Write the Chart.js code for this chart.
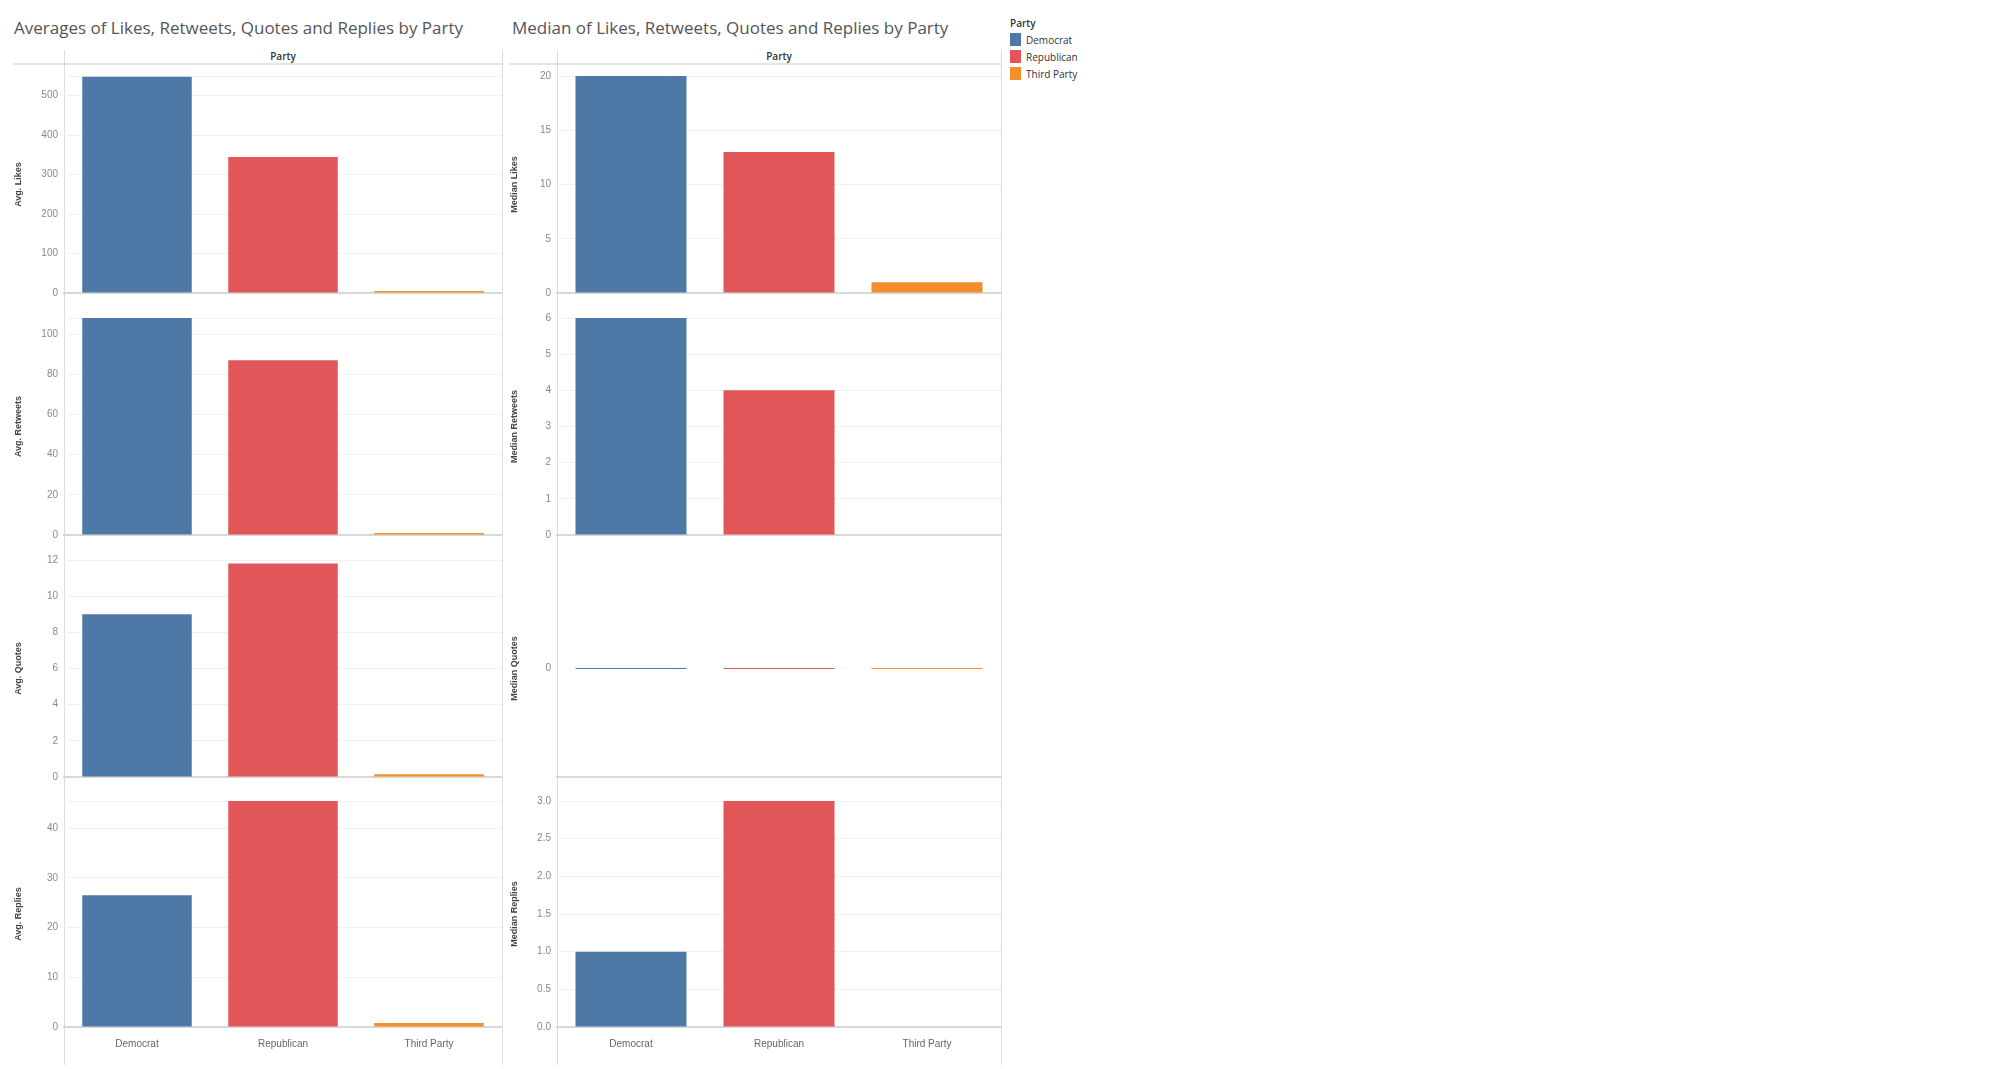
<!DOCTYPE html>
<html>
<head>
<meta charset="utf-8">
<script src="https://cdn.jsdelivr.net/npm/chart.js@4"></script>
<style>
  body { margin: 0; background: #fff; font-family: "Open Sans", "Noto Sans", sans-serif; }
  .abs { position: absolute; }
  .title { font-size: 17px; color: #555; top: 16px; }
  .hdr { font-size: 10px; color: #333; font-weight: 600; top: 49px; text-align: center; }
  .vline { position: absolute; width: 1px; background: #ddd; }
  .hline { position: absolute; height: 2px; background: #e4e4e4; }
  .legend { left: 1010px; top: 14px; font-size: 10px; color: #333; }
  .legend div { display: flex; align-items: center; height: 17px; }
  .legend span.sw { width: 11px; height: 13px; margin-right: 5px; display: inline-block; }
</style>
</head>
<body>
<div class="abs title" style="left:14px">Averages of Likes, Retweets, Quotes and Replies by Party</div>
<div class="abs title" style="left:512px">Median of Likes, Retweets, Quotes and Replies by Party</div>
<div class="abs hdr" style="left:64px;width:438px">Party</div>
<div class="abs hdr" style="left:557px;width:444px">Party</div>
<div class="hline" style="left:13px;width:489px;top:63px"></div>
<div class="hline" style="left:509px;width:492px;top:63px"></div>
<div class="vline" style="left:64px;top:50px;height:1015px"></div>
<div class="vline" style="left:502px;top:50px;height:1015px"></div>
<div class="vline" style="left:557px;top:50px;height:1015px"></div>
<div class="vline" style="left:1001px;top:50px;height:1015px"></div>
<div class="abs legend">
  <div style="font-weight:600">Party</div>
  <div><span class="sw" style="background:#4e79a7"></span>Democrat</div>
  <div><span class="sw" style="background:#e15759"></span>Republican</div>
  <div><span class="sw" style="background:#f28e2b"></span>Third Party</div>
</div>
<div id="charts"></div>
<script>
const parties = ['Democrat', 'Republican', 'Third Party'];
const partyColors = ['#4e79a7', '#e15759', '#f28e2b'];

const avgLikes = [548, 345, 5];
const avgRetweets = [108, 87, 1];
const avgQuotes = [9, 11.8, 0.15];
const avgReplies = [26.5, 45.5, 0.8];

const medianLikes = [20, 13, 1];
const medianRetweets = [6, 4, 0];
const medianQuotes = [0, 0, 0];
const medianReplies = [1, 3, 0];

// title, data, min, max, step
const leftPanels = [
  ['Avg. Likes', avgLikes, 0, 550, 100],
  ['Avg. Retweets', avgRetweets, 0, 108, 20],
  ['Avg. Quotes', avgQuotes, 0, 12, 2],
  ['Avg. Replies', avgReplies, 0, 45.5, 10],
];
const rightPanels = [
  ['Median Likes', medianLikes, 0, 20, 5],
  ['Median Retweets', medianRetweets, 0, 6, 1],
  ['Median Quotes', medianQuotes, -1, 1, 1],
  ['Median Replies', medianReplies, 0, 3, 0.5],
];

const rowTops = [64, 306, 548, 789];
const rowH = 241;

function makeChart(left, width, axisW, row, panel) {
  const [title, data, min, max, step] = panel;
  const last = row === 3;
  const cv = document.createElement('canvas');
  cv.className = 'abs';
  const h = last ? rowH + 24 : rowH;
  cv.style.cssText = `position:absolute;left:${left}px;top:${rowTops[row]}px;width:${width}px;height:${h}px`;
  document.getElementById('charts').appendChild(cv);
  const isQuotes = min < 0;
  new Chart(cv, {
    type: 'bar',
    data: {
      labels: parties,
      datasets: [{
        data,
        backgroundColor: partyColors,
        barPercentage: 0.75,
        categoryPercentage: 1,
        minBarLength: isQuotes ? 1 : 0,
      }],
    },
    options: {
      responsive: false,
      animation: false,
      layout: { padding: { top: row === 0 ? 12 : 8, bottom: 1, right: 0 } },
      plugins: { legend: { display: false }, tooltip: { enabled: false } },
      scales: {
        x: {
          grid: { display: false },
          border: { color: '#d8d8d8', width: 2 },
          ticks: { display: last, color: '#666', font: { size: 10 } },
        },
        y: {
          min, max,
          afterFit: (s) => { s.width = axisW; },
          grid: { color: isQuotes ? 'transparent' : '#f2f2f2', drawTicks: false },
          border: { display: false },
          title: { display: true, text: title, color: '#444', font: { size: 9, weight: 'bold' }, padding: 0 },
          ticks: {
            stepSize: step,
            color: '#888',
            font: { size: 10 },
            padding: 6,
            callback: (v) => {
              if (isQuotes) return v === 0 ? '0' : '';
              const r = v / step;
              if (Math.abs(r - Math.round(r)) > 1e-6) return '';
              return step < 1 ? v.toFixed(1) : String(v);
            },
          },
        },
      },
    },
  });
}

leftPanels.forEach((p, i) => makeChart(13, 489, 51, i, p));
rightPanels.forEach((p, i) => makeChart(509, 492, 48, i, p));
</script>
</body>
</html>
